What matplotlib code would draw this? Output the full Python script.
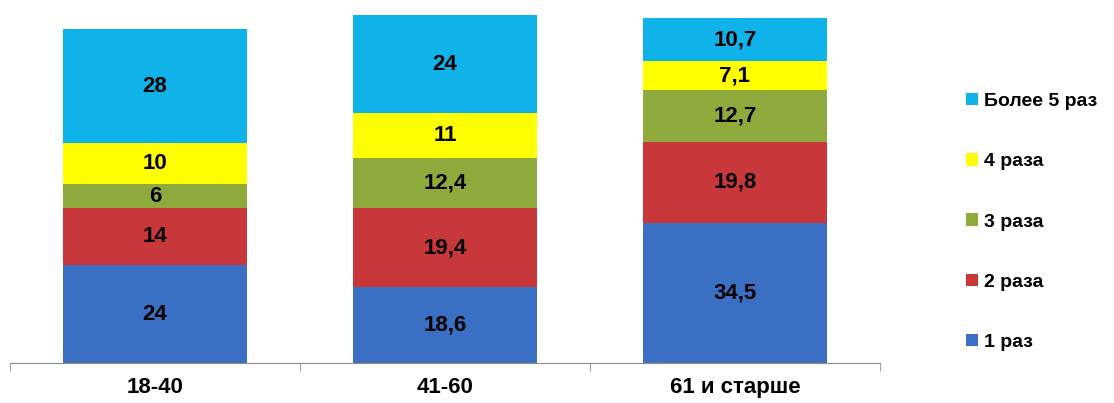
import matplotlib.pyplot as plt
import numpy as np

plt.rcParams['font.family'] = ['Liberation Sans', 'DejaVu Sans']

groups = ["18-40", "41-60", "61 и старше"]
series = ["1 раз", "2 раза", "3 раза", "4 раза", "Более 5 раз"]
values = [
    [24, 18.6, 34.5],
    [14, 19.4, 19.8],
    [6, 12.4, 12.7],
    [10, 11, 7.1],
    [28, 24, 10.7],
]
labels = [
    ["24", "18,6", "34,5"],
    ["14", "19,4", "19,8"],
    ["6", "12,4", "12,7"],
    ["10", "11", "7,1"],
    ["28", "24", "10,7"],
]
colors = ["#3a6fc4", "#c8383a", "#8faa3c", "#ffff00", "#10b2ea"]

fig = plt.figure(figsize=(11.14, 4.03), dpi=100)
ax = fig.add_axes([10/1114, 40/403, 870/1114, 363/403])

x = np.arange(len(groups))
bottom = np.zeros(len(groups))
for vals, lab, col, name in zip(values, labels, colors, series):
    ax.bar(x, vals, width=0.635, bottom=bottom, color=col, label=name)
    for xi, v, bt, t in zip(x, vals, bottom, lab):
        ax.text(xi, bt + v / 2, t, ha="center", va="center",
                fontsize=16, fontweight="bold", color="black")
    bottom += np.array(vals)

ax.set_xlim(-0.5, 2.5)
ax.set_ylim(0, 89.2)
ax.set_yticks([])
for s in ["top", "right", "left"]:
    ax.spines[s].set_visible(False)
ax.spines["bottom"].set_color("#8c8c8c")
ax.set_xticks(x)
ax.set_xticklabels(groups, fontsize=16, fontweight="bold")
ax.tick_params(axis="x", length=0, pad=10)
ax.set_xticks([-0.5, 0.5, 1.5, 2.5], minor=True)
ax.tick_params(axis="x", which="minor", length=6, color="#8c8c8c", direction="out")

handles, names = ax.get_legend_handles_labels()
ax.legend(handles[::-1], names[::-1], loc="center left",
          bbox_to_anchor=(966/1114, 181/403), bbox_transform=fig.transFigure,
          frameon=False, borderpad=0, borderaxespad=0,
          handlelength=0.6, handleheight=0.6,
          handletextpad=0.3, labelspacing=2.22,
          prop={"size": 14, "weight": "bold"})

fig.savefig("out.png", dpi=100)
